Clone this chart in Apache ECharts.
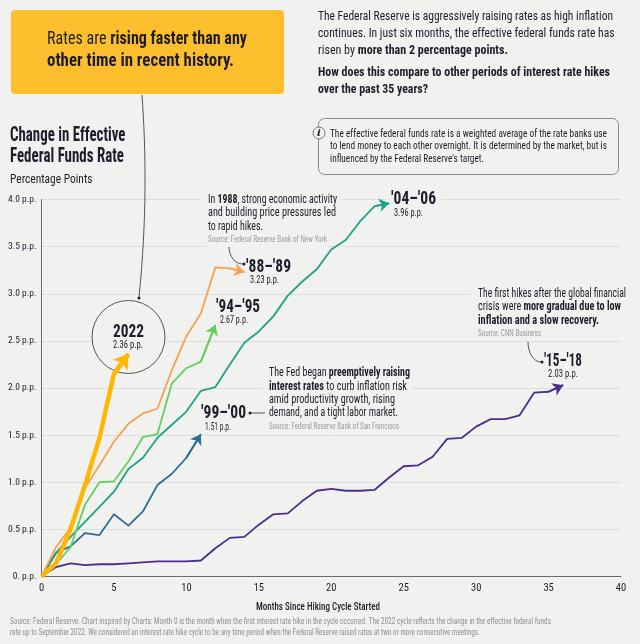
<!DOCTYPE html>
<html><head><meta charset="utf-8">
<style>html,body{margin:0;padding:0;background:#f1f1f0}#c{width:640px;height:644px}</style>
<script src="https://cdn.jsdelivr.net/npm/echarts@6/dist/echarts.min.js"></script>
</head><body><div id="c"></div>
<script>
const yTickLabels = {0:'0. p.p.',0.5:'0.5 p.p.',1:'1.0 p.p.',1.5:'1.5 p.p.',2:'2.0 p.p.',2.5:'2.5 p.p.',3:'3.0 p.p.',3.5:'3.5 p.p.',4:'4.0 p.p.'};
const cycle2022 = [0,0.14,0.5,0.97,1.47,2.15,2.36];
const cycle8889 = [0,0.31,0.52,0.94,1.18,1.43,1.62,1.73,1.78,2.19,2.55,2.79,3.28,3.27,3.23];
const cycle9495 = [0,0.13,0.31,0.76,1.0,1.01,1.22,1.48,1.51,2.05,2.21,2.28,2.67];
const cycle0406 = [0,0.25,0.42,0.58,0.74,0.9,1.14,1.26,1.47,1.61,1.75,1.97,2.01,2.25,2.48,2.6,2.76,2.98,3.13,3.26,3.47,3.57,3.77,3.93,3.96];
const cycle9900 = [0,0.25,0.32,0.46,0.44,0.66,0.54,0.69,0.97,1.09,1.26,1.51];
const cycle1518 = [0,0.1,0.14,0.12,0.13,0.13,0.14,0.15,0.16,0.16,0.16,0.17,0.3,0.41,0.42,0.55,0.66,0.67,0.8,0.91,0.93,0.91,0.91,0.92,1.05,1.17,1.18,1.27,1.46,1.47,1.59,1.67,1.67,1.71,1.95,1.96,2.03];

const BG='#f1f1f0', INK='#1d1d2b', FONT="'Roboto Condensed','Liberation Sans Narrow','Roboto',sans-serif";
const mk=(name,vals,color,w,z,arrow)=>({
  name,type:'line',data:vals.map((v,i)=>[i,v]),symbol:'none',smooth:false,z,animation:false,silent:true,
  lineStyle:{color,width:w,join:'round'},
  markLine:{silent:true,animation:false,z,symbol:['none','arrow'],symbolSize:arrow,label:{show:false},
    lineStyle:{color,width:w,type:'solid'},emphasis:{disabled:true},
    data:[[{coord:[vals.length-2,vals[vals.length-2]]},{coord:[vals.length-1,vals[vals.length-1]]}]]}
});
const series=[
  mk("'15-'18",cycle1518,'#4b2e8d',1.8,3,10),
  mk("'99-'00",cycle9900,'#2d6e93',1.8,3,10),
  mk("'04-'06",cycle0406,'#1fa287',1.8,4,10),
  mk("'94-'95",cycle9495,'#62cf5e',1.8,5,10),
  mk("'88-'89",cycle8889,'#f8a14f',1.8,6,10),
  mk('2022',cycle2022,'#ffb703',4.5,7,14)
];
const ctx=document.createElement('canvas').getContext('2d');
function measure(text,s,w){
  let total=0;
  text.split(/(\{b\|.*?\})/).filter(Boolean).forEach(p=>{
    const m=p.match(/^\{b\|(.*)\}$/);
    ctx.font=`${m?700:w} ${s}px ${FONT}`;
    total+=ctx.measureText(m?m[1]:p).width;
  });
  return total;
}
// x = left edge, e = right edge of the line of text, y = its centre
function t(x,y,text,e,o={}){
  const s=o.s||11,w=o.w||400;
  const sx=e?(e-x)/measure(text,s,w):1;
  return {type:'text',x,y,z:10,silent:true,scaleX:sx,style:{
    text,fill:o.c||INK,fontFamily:FONT,fontSize:s,fontWeight:w,
    textAlign:'left',verticalAlign:'middle',
    rich:{b:{fontFamily:FONT,fontSize:s,fontWeight:700,fill:o.c||INK}}}};
}
const mask=(x1,x2,y)=>({type:'rect',z:1,silent:true,shape:{x:x1,y:y-2,width:x2-x1,height:4},style:{fill:BG}});
const curve=(x1,y1,cx1,cy1,cx2,cy2,x2,y2,c='#555')=>({type:'bezierCurve',z:9,silent:true,
  shape:{x1,y1,cpx1:cx1,cpy1:cy1,cpx2:cx2,cpy2:cy2,x2,y2},style:{stroke:c,lineWidth:1,fill:'none'}});
const dot=(x,y)=>({type:'circle',z:9,silent:true,shape:{cx:x,cy:y,r:1.5},style:{fill:'#222'}});
const SRC='#9a9a9a', FOOT='#8f8f8f';
const graphics=[
  mask(202,341,199.5),mask(386,442,199.5),mask(207,328,246.5),mask(470,640,293.5),mask(262,412,387.5),
  {type:'rect',z:8,silent:true,shape:{x:11,y:10,width:273,height:84,r:4},style:{fill:'#fdbf2d'}},
  t(47,40,'Rates are {b|rising faster than any}',247,{s:17.5}),
  t(47,62,'{b|other time in recent history.}',234,{s:17.5}),
  t(10,136,'{b|Change in Effective}',125.5,{s:21}),
  t(10,157,'{b|Federal Funds Rate}',124,{s:21}),
  t(10,180,'Percentage Points',92.5,{s:12.5}),
  t(318,17,'The Federal Reserve is aggressively raising rates as high inflation',613,{s:13.5}),
  t(318,34,'continues. In just six months, the effective federal funds rate has',614.5,{s:13.5}),
  t(318,51,'risen by {b|more than 2 percentage points.}',508,{s:13.5}),
  t(318,73,'{b|How does this compare to other periods of interest rate hikes}',610,{s:13.5}),
  t(318,90,'{b|over the past 35 years?}',428,{s:13.5}),
  {type:'rect',z:8,silent:true,shape:{x:318.5,y:118.5,width:300,height:56,r:6},style:{fill:'none',stroke:'#8a8a8a',lineWidth:1}},
  {type:'circle',z:9,silent:true,shape:{cx:319,cy:133,r:6},style:{fill:BG,stroke:'#777',lineWidth:1}},
  {type:'text',z:10,silent:true,x:319,y:133,style:{text:'i',fill:INK,fontFamily:'DejaVu Serif',fontStyle:'italic',fontWeight:700,fontSize:10,textAlign:'center',verticalAlign:'middle'}},
  t(330,134,'The effective federal funds rate is a weighted average of the rate banks use',607,{s:10.5}),
  t(330,146,'to lend money to each other overnight. It is determined by the market, but is',607,{s:10.5}),
  t(330,159,"influenced by the Federal Reserve's target.",484,{s:10.5}),

  curve(142,95,146,150,147,220,139,297),dot(139,298),
  {type:'circle',z:1,silent:true,shape:{cx:128.5,cy:337,r:36.5},style:{fill:BG,stroke:'#555',lineWidth:1}},
  t(113,332,'{b|2022}',144,{s:18}),
  t(113,345,'2.36 p.p.',143,{s:11}),

  t(208,200,'In {b|1988}, strong economic activity',337,{s:12}),
  t(208,213,'and building price pressures led',336,{s:12}),
  t(208,227,'to rapid hikes.',263,{s:12}),
  t(208,240,'Source: Federal Reserve Bank of New York',327,{s:8.5,c:SRC}),
  curve(229,247,229,256,235,264,243,264),dot(244,264),
  t(246,267,"{b|'88–'89}",291,{s:18}),
  t(250,280,'3.23 p.p.',279,{s:11}),
  t(216,307,"{b|'94–'95}",260,{s:18}),
  t(220,320,'2.67 p.p.',248,{s:11}),
  t(391,199,"{b|'04–'06}",436,{s:18}),
  t(394,213,'3.96 p.p.',423,{s:11}),
  t(201,413,"{b|'99–'00}",246,{s:18}),
  t(205,427,'1.51 p.p.',231,{s:11}),
  {type:'line',z:9,silent:true,shape:{x1:250,y1:413,x2:265,y2:413},style:{stroke:'#555',lineWidth:1}},dot(250,413),

  t(269,373,'The Fed began {b|preemptively raising}',410,{s:12}),
  t(269,387,'{b|interest rates} to curb inflation risk',407,{s:12}),
  t(269,400,'amid productivity growth, rising',395,{s:12}),
  t(269,413,'demand, and a tight labor market.',398,{s:12}),
  t(269,427,'Source: Federal Reserve Bank of San Francisco',399,{s:8.5,c:SRC}),

  t(478,294,'The first hikes after the global financial',626,{s:12}),
  t(478,307,'crisis were {b|more gradual due to low}',621,{s:12}),
  t(478,321,'{b|inflation and a slow recovery.}',599,{s:12}),
  t(478,334,'Source: CNN Business',541,{s:8.5,c:SRC}),
  curve(528,342,528,352,533,362,541,362),dot(542,362),
  t(544,361,"{b|'15–'18}",582,{s:18}),
  t(548,374,'2.03 p.p.',578,{s:11}),

  t(256,607,'Months Since Hiking Cycle Started',380,{s:11.5,w:500}),
  t(10,622,'Source: Federal Reserve. Chart inspired by Charts: Month 0 is the month when the first interest rate hike in the cycle occurred. The 2022 cycle reflects the change in the effective federal funds',551,{s:8.5,c:FOOT}),
  t(10,633,'rate up to September 2022. We considered an interest rate hike cycle to be any time period when the Federal Reserve raised rates at two or more consecutive meetings.',480,{s:8.5,c:FOOT})
];
const chart=echarts.init(document.getElementById('c'),null,{renderer:'canvas'});
chart.setOption({
  backgroundColor:BG,animation:false,
  grid:{left:41.5,right:19,top:199.5,bottom:67.5,containLabel:false},
  xAxis:{type:'value',min:0,max:40,interval:5,
    axisLine:{show:true,onZero:false,lineStyle:{color:'#6b6b6b',width:1}},axisTick:{show:false},splitLine:{show:false},
    axisLabel:{fontFamily:"'Liberation Sans Narrow',"+FONT,fontSize:10.5,color:INK,margin:6}},
  yAxis:{type:'value',min:0,max:4,interval:0.5,
    axisLine:{show:true,onZero:false,lineStyle:{color:'#6b6b6b',width:1}},axisTick:{show:false},
    splitLine:{show:true,lineStyle:{color:'#dedede',width:1}},
    axisLabel:{fontFamily:"'Liberation Sans Narrow',"+FONT,fontSize:9.5,color:INK,margin:5,formatter:v=>yTickLabels[v]}},
  series,graphic:{elements:graphics}
});
</script></body></html>
